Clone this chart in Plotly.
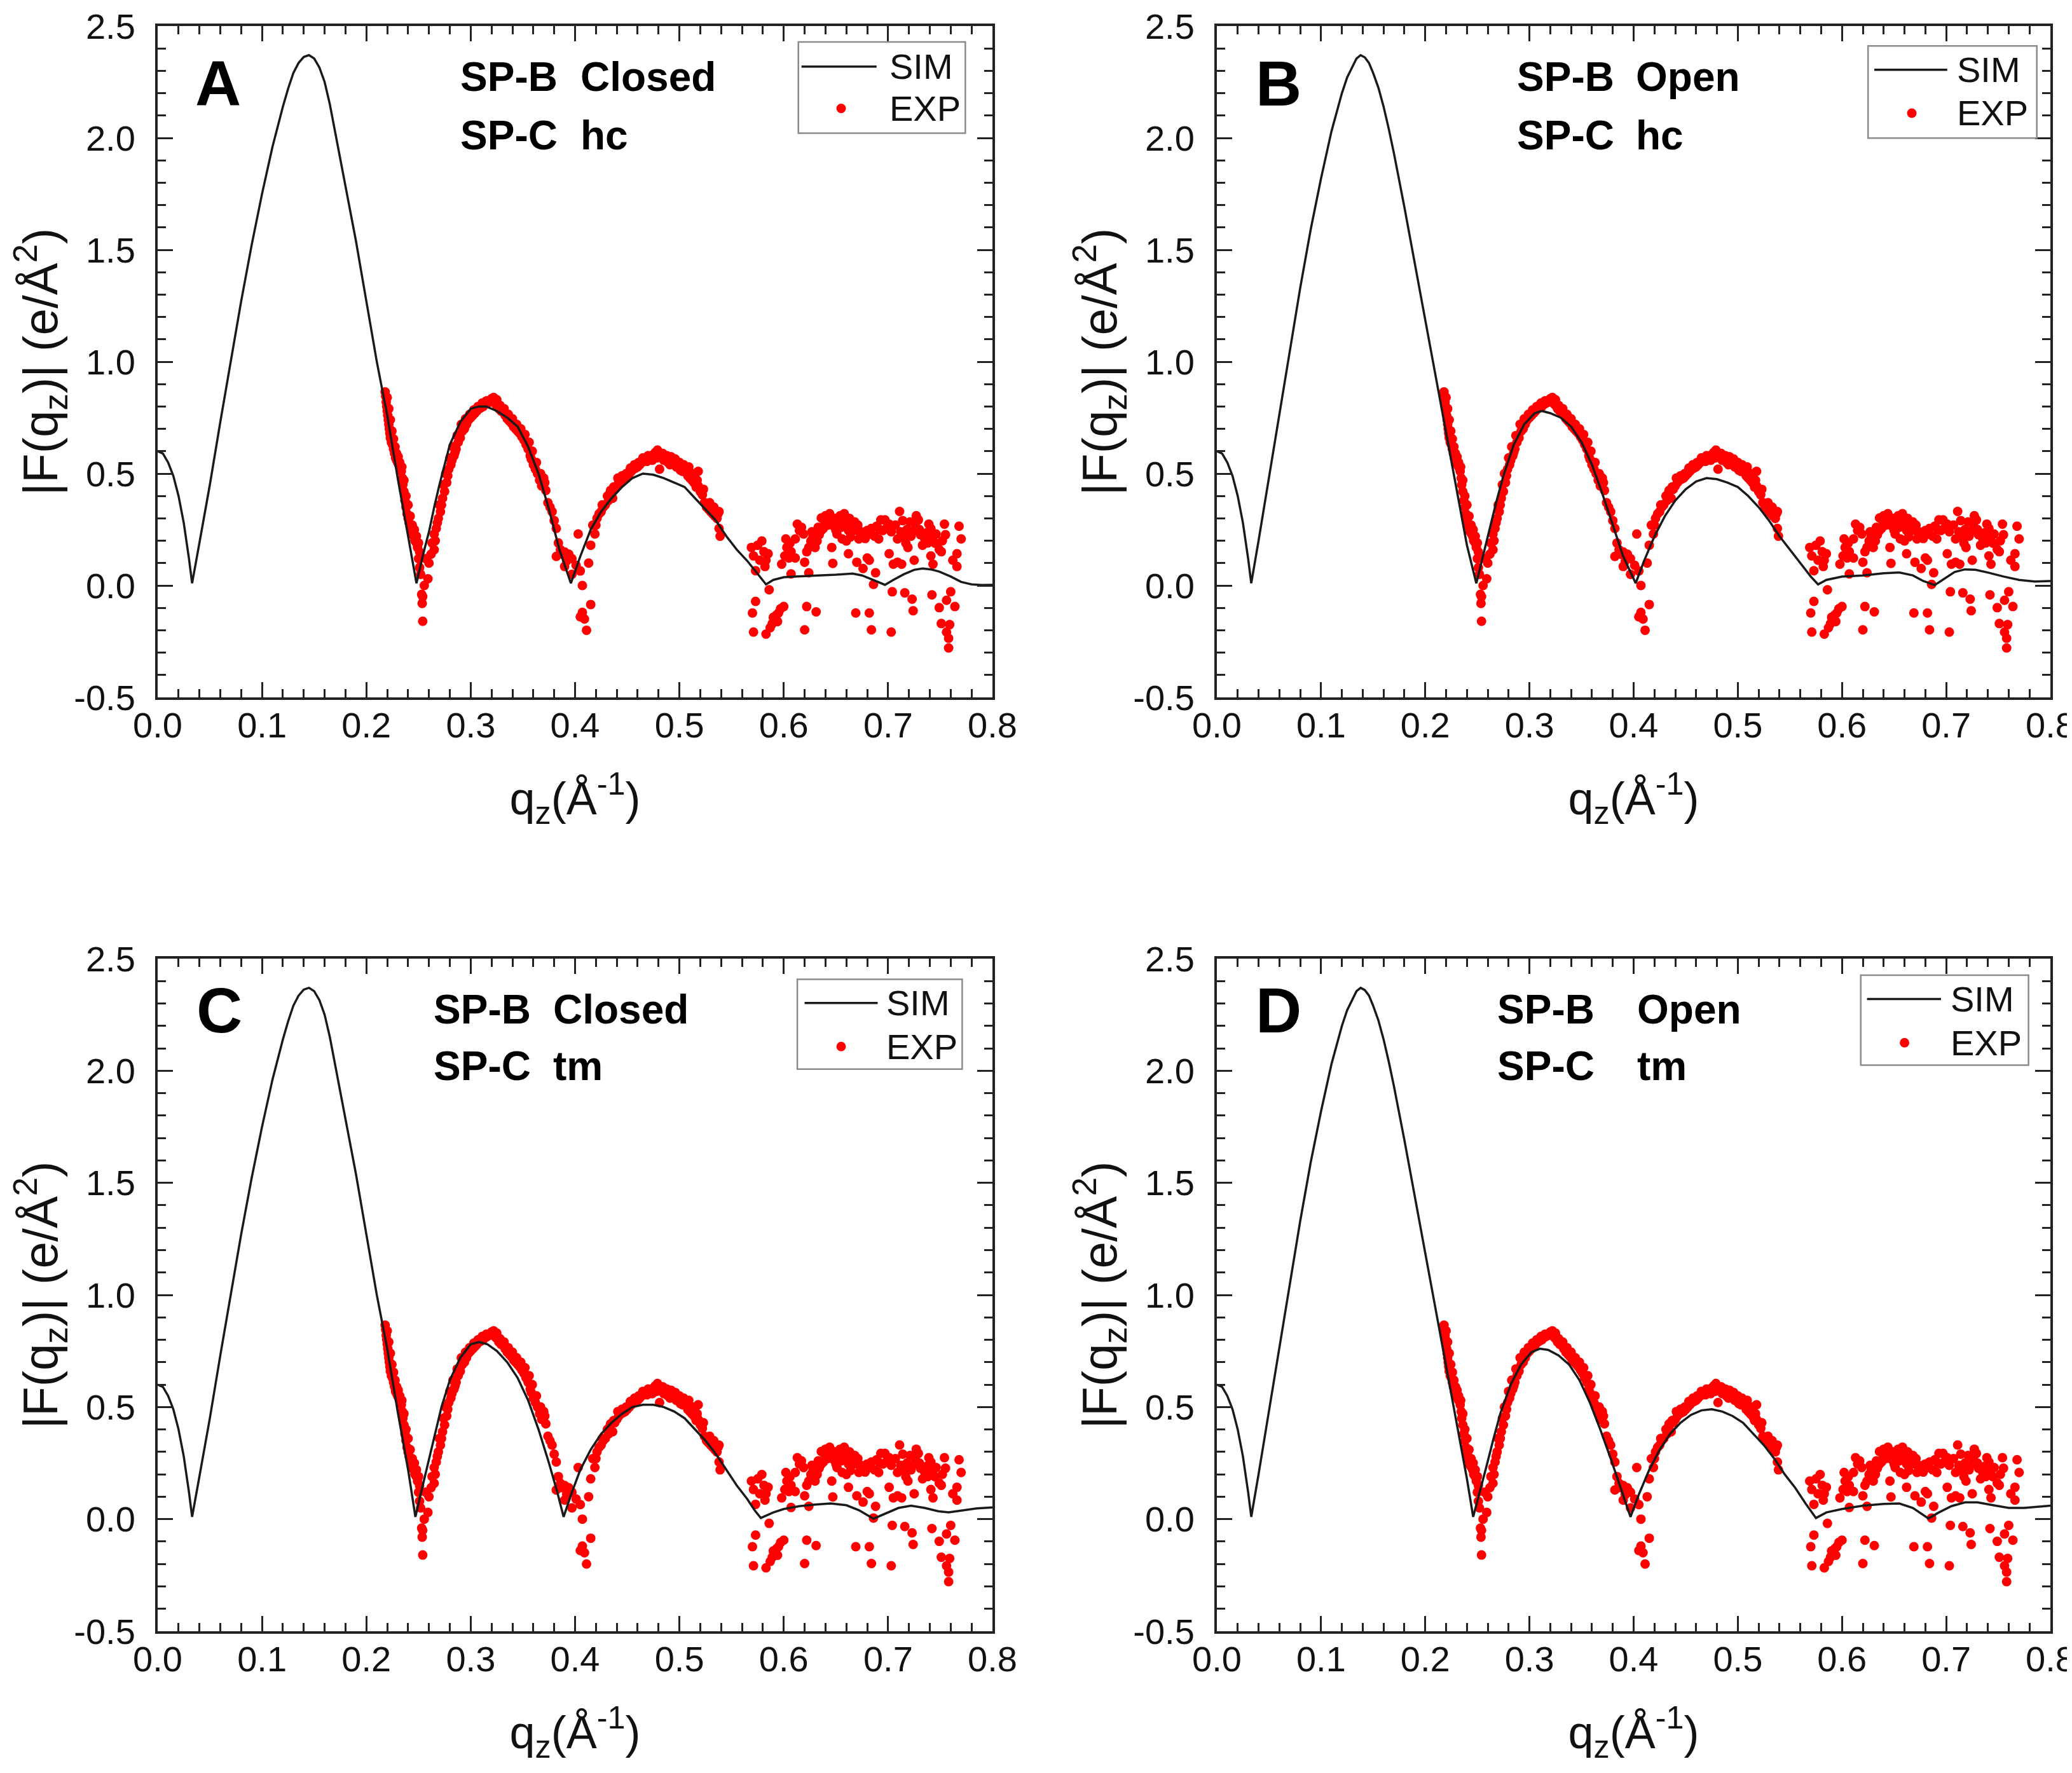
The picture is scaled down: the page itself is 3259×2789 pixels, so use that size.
import plotly.graph_objects as go

# ---------------- data ----------------
PANEL_LETTERS = ["A", "B", "C", "D"]
SPB_STATE = ["Closed", "Open", "Closed", "Open"]
SPC_STATE = ["hc", "hc", "tm", "tm"]

X_TICKS = [0.0, 0.1, 0.2, 0.3, 0.4, 0.5, 0.6, 0.7, 0.8]
Y_TICKS = [-0.5, 0.0, 0.5, 1.0, 1.5, 2.0, 2.5]

# experimental |F(qz)| (q, F)
EXP = [
    (0.2180, 0.865), (0.2185, 0.845), (0.2190, 0.82), (0.2195, 0.80), (0.2200, 0.78), (0.2205, 0.76),
    (0.2210, 0.74), (0.2215, 0.72), (0.2220, 0.70), (0.2225, 0.68), (0.2230, 0.66), (0.2240, 0.64),
    (0.2250, 0.63), (0.2260, 0.61), (0.2270, 0.59), (0.2280, 0.57), (0.2290, 0.56), (0.2300, 0.55),
    (0.2310, 0.54), (0.2320, 0.53), (0.2335, 0.51), (0.2345, 0.48), (0.2350, 0.45), (0.2360, 0.42),
    (0.2370, 0.38), (0.2380, 0.35), (0.2390, 0.32), (0.2400, 0.30), (0.2410, 0.28), (0.2420, 0.26),
    (0.2430, 0.24), (0.2445, 0.23), (0.2455, 0.22), (0.2465, 0.20), (0.2480, 0.19), (0.2490, 0.17),
    (0.2500, 0.12), (0.2510, 0.08), (0.2520, 0.05), (0.2530, -0.04), (0.2540, -0.05), (0.2535, -0.08),
    (0.2540, -0.16), (0.2555, 0.00), (0.2570, 0.12), (0.2590, 0.03), (0.2600, 0.10), (0.2620, 0.14),
    (0.2200, 0.84), (0.2215, 0.79), (0.2230, 0.74), (0.2245, 0.69), (0.2260, 0.655), (0.2275, 0.62),
    (0.2290, 0.59), (0.2305, 0.575), (0.2320, 0.55), (0.2340, 0.53), (0.2360, 0.47), (0.2380, 0.40),
    (0.2400, 0.36), (0.2420, 0.31), (0.2440, 0.27), (0.2460, 0.25), (0.2480, 0.22), (0.2500, 0.19),
    (0.2510, 0.15),
    (0.2650, 0.16), (0.2630, 0.19), (0.2650, 0.23), (0.2670, 0.255), (0.2690, 0.30), (0.2710, 0.33),
    (0.2720, 0.36), (0.2730, 0.39), (0.2750, 0.42), (0.2770, 0.46), (0.2780, 0.49), (0.2790, 0.52),
    (0.2810, 0.54), (0.2820, 0.56), (0.2840, 0.58), (0.2850, 0.595), (0.2860, 0.61), (0.2880, 0.64),
    (0.2900, 0.66), (0.2920, 0.69), (0.2940, 0.70), (0.2960, 0.72), (0.2980, 0.74), (0.3000, 0.75),
    (0.3020, 0.76), (0.3040, 0.77), (0.3060, 0.78), (0.3080, 0.79), (0.3100, 0.795), (0.3120, 0.80),
    (0.3140, 0.81), (0.3160, 0.815), (0.3180, 0.82), (0.3200, 0.835), (0.3210, 0.825), (0.3220, 0.84),
    (0.2660, 0.20), (0.2680, 0.28), (0.2700, 0.36), (0.2740, 0.45), (0.2760, 0.50), (0.2800, 0.57),
    (0.2830, 0.62), (0.2870, 0.67), (0.2910, 0.72), (0.2950, 0.745), (0.2990, 0.765), (0.3030, 0.785),
    (0.3070, 0.80), (0.3110, 0.815), (0.3150, 0.825),
    (0.3230, 0.82), (0.3240, 0.81), (0.3260, 0.80), (0.3270, 0.79), (0.3290, 0.78), (0.3310, 0.775),
    (0.3330, 0.76), (0.3350, 0.745), (0.3370, 0.735), (0.3390, 0.725), (0.3410, 0.71), (0.3430, 0.70),
    (0.3450, 0.69), (0.3470, 0.68), (0.3490, 0.665), (0.3510, 0.65), (0.3530, 0.63), (0.3550, 0.61),
    (0.3570, 0.58), (0.3580, 0.565), (0.3600, 0.54), (0.3620, 0.52), (0.3640, 0.50), (0.3660, 0.47),
    (0.3250, 0.83), (0.3280, 0.805), (0.3320, 0.79), (0.3360, 0.765), (0.3400, 0.745), (0.3440, 0.72),
    (0.3480, 0.70), (0.3520, 0.675), (0.3560, 0.64), (0.3590, 0.60), (0.3630, 0.55), (0.3670, 0.50),
    (0.3680, 0.445), (0.3700, 0.48), (0.3710, 0.46), (0.3720, 0.425), (0.3740, 0.37), (0.3760, 0.35),
    (0.3780, 0.33), (0.3800, 0.29), (0.3820, 0.255), (0.3840, 0.19), (0.3820, 0.13), (0.3860, 0.16),
    (0.3880, 0.14), (0.3900, 0.15), (0.3900, 0.085), (0.3920, 0.11), (0.3940, 0.14), (0.3970, 0.12),
    (0.3970, 0.05), (0.4010, 0.09), (0.4030, 0.23), (0.4050, 0.065), (0.4070, 0.00), (0.4050, -0.14),
    (0.4070, -0.12), (0.4090, -0.15), (0.4110, -0.20), (0.4130, 0.10), (0.4150, 0.18), (0.4150, -0.085),
    (0.4170, 0.27), (0.4190, 0.23), (0.4210, 0.30), (0.4230, 0.32), (0.4250, 0.33), (0.4270, 0.35),
    (0.4290, 0.36), (0.4310, 0.40), (0.4330, 0.41), (0.4340, 0.425), (0.4360, 0.39), (0.4380, 0.43),
    (0.4400, 0.445), (0.4420, 0.46), (0.4440, 0.47), (0.4460, 0.475), (0.4480, 0.48), (0.4500, 0.49),
    (0.4520, 0.50), (0.4540, 0.51), (0.4560, 0.52), (0.4580, 0.525), (0.4600, 0.53), (0.4620, 0.54),
    (0.4640, 0.55), (0.4660, 0.555), (0.4670, 0.56), (0.4690, 0.555), (0.4710, 0.565), (0.4730, 0.575),
    (0.4750, 0.585), (0.4770, 0.595), (0.4790, 0.605), (0.4810, 0.58), (0.4830, 0.575), (0.4810, 0.52),
    (0.4850, 0.56), (0.4870, 0.565), (0.4890, 0.55), (0.4910, 0.54), (0.4930, 0.56), (0.4950, 0.55),
    (0.4970, 0.53), (0.4990, 0.53), (0.5010, 0.515), (0.5030, 0.51), (0.5060, 0.52), (0.5080, 0.49),
    (0.5100, 0.48), (0.5120, 0.47), (0.5140, 0.46), (0.5160, 0.44), (0.5180, 0.51), (0.5180, 0.445),
    (0.5200, 0.42), (0.5220, 0.405), (0.5240, 0.37), (0.5260, 0.35), (0.5280, 0.34), (0.5300, 0.33),
    (0.5320, 0.32), (0.5340, 0.31), (0.5360, 0.30), (0.5380, 0.33), (0.5380, 0.255), (0.5390, 0.22),
    (0.4200, 0.27), (0.4260, 0.36), (0.4320, 0.38), (0.4370, 0.44), (0.4410, 0.48), (0.4450, 0.49),
    (0.4490, 0.50), (0.4530, 0.525), (0.4570, 0.54), (0.4610, 0.55), (0.4650, 0.57), (0.4700, 0.58),
    (0.4740, 0.56), (0.4780, 0.57), (0.4840, 0.59), (0.4880, 0.58), (0.4920, 0.575), (0.4960, 0.565),
    (0.5000, 0.55), (0.5040, 0.54), (0.5090, 0.53), (0.5130, 0.50), (0.5170, 0.47), (0.5230, 0.43),
    (0.5290, 0.37), (0.5330, 0.35), (0.5370, 0.32),
    (0.569, 0.170), (0.570, -0.123), (0.571, 0.132), (0.571, -0.208), (0.573, 0.066), (0.573, -0.071),
    (0.575, 0.18), (0.577, 0.113), (0.579, 0.199), (0.581, 0.151), (0.582, 0.085), (0.583, 0.113),
    (0.583, -0.217), (0.585, 0.142), (0.586, -0.019), (0.587, -0.189), (0.589, -0.170), (0.590, -0.142),
    (0.591, -0.151), (0.593, -0.132), (0.594, -0.161), (0.595, -0.123), (0.597, -0.104), (0.598, 0.095),
    (0.600, -0.094), (0.601, 0.132), (0.602, 0.208), (0.603, 0.170), (0.605, 0.123), (0.606, 0.189),
    (0.607, 0.151), (0.607, 0.052), (0.611, 0.208), (0.611, 0.123), (0.613, 0.274), (0.615, 0.246),
    (0.617, 0.26), (0.619, 0.23), (0.620, 0.104), (0.620, -0.198), (0.622, 0.151), (0.622, -0.094),
    (0.624, 0.057), (0.624, 0.170), (0.626, 0.199), (0.627, 0.24), (0.628, 0.217), (0.630, 0.170),
    (0.631, -0.118), (0.632, 0.199), (0.633, 0.26), (0.634, 0.227), (0.636, 0.246), (0.636, 0.302),
    (0.638, 0.255), (0.639, 0.29), (0.640, 0.312), (0.642, 0.27), (0.644, 0.321), (0.646, 0.293),
    (0.646, 0.170), (0.647, 0.099), (0.648, 0.265), (0.649, 0.30), (0.650, 0.246), (0.651, 0.23),
    (0.652, 0.274), (0.654, 0.312), (0.655, 0.26), (0.656, 0.208), (0.657, 0.28), (0.658, 0.321),
    (0.660, 0.284), (0.660, 0.199), (0.662, 0.246), (0.662, 0.142), (0.663, 0.30), (0.664, 0.217),
    (0.666, 0.26), (0.668, 0.284), (0.669, -0.123), (0.670, 0.246), (0.670, 0.104), (0.671, 0.27),
    (0.672, 0.208), (0.674, 0.24), (0.676, 0.227), (0.676, 0.076), (0.678, 0.21), (0.680, 0.246),
    (0.680, 0.123), (0.682, 0.113), (0.682, -0.123), (0.683, 0.23), (0.684, 0.255), (0.684, -0.198),
    (0.686, 0.005), (0.687, 0.22), (0.688, 0.057), (0.689, 0.265), (0.691, 0.208), (0.692, 0.25),
    (0.693, 0.293), (0.695, 0.246), (0.697, 0.293), (0.699, 0.26), (0.701, 0.274), (0.701, 0.142),
    (0.703, -0.208), (0.703, 0.24), (0.704, -0.028), (0.705, 0.095), (0.707, 0.27), (0.709, 0.104),
    (0.709, 0.208), (0.711, 0.331), (0.712, 0.24), (0.713, 0.095), (0.714, 0.29), (0.715, 0.217),
    (0.716, -0.033), (0.717, 0.189), (0.718, 0.25), (0.719, 0.170), (0.721, 0.284), (0.722, 0.22),
    (0.723, -0.061), (0.724, -0.113), (0.725, 0.246), (0.725, 0.113), (0.726, 0.27), (0.727, 0.312),
    (0.729, 0.293), (0.730, 0.25), (0.731, 0.227), (0.733, 0.180), (0.735, 0.21), (0.737, 0.236),
    (0.738, 0.19), (0.739, 0.274), (0.741, 0.255), (0.741, 0.132), (0.742, -0.042), (0.743, 0.217),
    (0.743, 0.095), (0.745, 0.189), (0.746, 0.23), (0.749, 0.161), (0.749, -0.099), (0.751, 0.151),
    (0.751, -0.170), (0.752, 0.20), (0.754, 0.274), (0.755, 0.227), (0.756, -0.066), (0.756, -0.208),
    (0.758, -0.236), (0.758, -0.279), (0.759, -0.175), (0.760, -0.028), (0.762, 0.113), (0.764, -0.094),
    (0.766, 0.142), (0.766, 0.085), (0.768, 0.265), (0.770, 0.208),
]

# simulated |F(qz)| for each panel (q, F)
SIM_A = [
    (0.000, 0.60), (0.005, 0.59), (0.010, 0.55), (0.015, 0.49), (0.020, 0.40), (0.025, 0.28),
    (0.030, 0.12), (0.033, 0.01), (0.040, 0.19), (0.050, 0.45), (0.060, 0.73), (0.070, 1.00),
    (0.080, 1.27), (0.090, 1.52), (0.100, 1.75), (0.110, 1.96), (0.120, 2.14), (0.125, 2.22),
    (0.130, 2.29), (0.135, 2.335), (0.140, 2.362), (0.145, 2.37), (0.150, 2.355), (0.155, 2.315),
    (0.160, 2.25), (0.165, 2.15), (0.170, 2.03), (0.180, 1.78),
    (0.190, 1.54), (0.200, 1.27), (0.210, 1.00), (0.220, 0.76), (0.230, 0.48), (0.240, 0.22),
    (0.248, 0.01), (0.255, 0.15), (0.260, 0.24), (0.265, 0.35), (0.270, 0.45), (0.280, 0.63),
    (0.290, 0.73), (0.300, 0.79), (0.308, 0.80), (0.315, 0.80), (0.325, 0.78), (0.335, 0.75),
    (0.345, 0.71), (0.355, 0.62), (0.365, 0.50), (0.375, 0.34), (0.385, 0.16), (0.396, 0.01),
    (0.405, 0.13), (0.415, 0.25), (0.425, 0.33), (0.435, 0.39), (0.445, 0.44), (0.455, 0.48),
    (0.465, 0.50), (0.475, 0.495), (0.485, 0.48), (0.495, 0.46), (0.505, 0.44), (0.515, 0.39),
    (0.525, 0.34), (0.535, 0.29), (0.545, 0.22), (0.555, 0.16), (0.565, 0.11), (0.575, 0.05),
    (0.583, 0.005), (0.590, 0.025), (0.600, 0.037), (0.610, 0.040), (0.630, 0.043), (0.650, 0.048),
    (0.666, 0.053), (0.675, 0.045), (0.684, 0.028), (0.697, 0.003), (0.705, 0.025), (0.715, 0.05),
    (0.725, 0.07), (0.733, 0.076), (0.741, 0.072), (0.749, 0.062), (0.760, 0.04), (0.770, 0.016),
    (0.780, 0.005), (0.790, 0.002), (0.800, 0.003),
]
SIM_B = [
    (0.000, 0.60), (0.005, 0.59), (0.010, 0.55), (0.015, 0.49), (0.020, 0.40), (0.025, 0.28),
    (0.030, 0.12), (0.033, 0.01), (0.040, 0.20), (0.050, 0.48), (0.060, 0.77), (0.070, 1.05),
    (0.080, 1.33), (0.090, 1.59), (0.100, 1.82), (0.110, 2.03), (0.120, 2.20), (0.125, 2.27),
    (0.130, 2.32), (0.134, 2.355), (0.138, 2.37), (0.142, 2.36), (0.146, 2.335), (0.150, 2.29),
    (0.155, 2.225), (0.160, 2.14), (0.165, 2.04), (0.170, 1.93), (0.180, 1.69),
    (0.190, 1.44), (0.200, 1.18), (0.210, 0.93), (0.220, 0.68), (0.230, 0.43), (0.240, 0.18),
    (0.249, 0.01), (0.256, 0.14), (0.262, 0.26), (0.268, 0.37), (0.275, 0.49), (0.285, 0.63),
    (0.295, 0.72), (0.305, 0.77), (0.312, 0.78), (0.320, 0.77), (0.330, 0.75), (0.340, 0.71),
    (0.350, 0.64), (0.360, 0.54), (0.370, 0.41), (0.380, 0.27), (0.390, 0.13), (0.402, 0.01),
    (0.410, 0.11), (0.420, 0.22), (0.430, 0.31), (0.440, 0.38), (0.450, 0.43), (0.460, 0.465),
    (0.470, 0.48), (0.480, 0.475), (0.490, 0.46), (0.500, 0.44), (0.510, 0.40), (0.520, 0.35),
    (0.530, 0.29), (0.540, 0.22), (0.550, 0.16), (0.560, 0.10), (0.570, 0.04), (0.577, 0.005),
    (0.585, 0.025), (0.600, 0.040), (0.620, 0.045), (0.640, 0.055), (0.655, 0.058), (0.668, 0.045),
    (0.678, 0.02), (0.689, 0.002), (0.698, 0.03), (0.708, 0.06), (0.718, 0.072), (0.728, 0.07),
    (0.740, 0.058), (0.755, 0.04), (0.770, 0.025), (0.785, 0.018), (0.800, 0.02),
]
SIM_C = [
    (0.000, 0.60), (0.005, 0.59), (0.010, 0.55), (0.015, 0.49), (0.020, 0.40), (0.025, 0.28),
    (0.030, 0.12), (0.033, 0.01), (0.040, 0.19), (0.050, 0.45), (0.060, 0.73), (0.070, 1.00),
    (0.080, 1.27), (0.090, 1.52), (0.100, 1.75), (0.110, 1.96), (0.120, 2.14), (0.125, 2.22),
    (0.130, 2.29), (0.135, 2.335), (0.140, 2.362), (0.145, 2.37), (0.150, 2.355), (0.155, 2.315),
    (0.160, 2.25), (0.165, 2.15), (0.170, 2.03), (0.180, 1.78),
    (0.190, 1.54), (0.200, 1.27), (0.210, 1.00), (0.220, 0.76), (0.230, 0.48), (0.240, 0.22),
    (0.247, 0.01), (0.254, 0.15), (0.260, 0.27), (0.266, 0.39), (0.272, 0.50), (0.280, 0.62),
    (0.290, 0.72), (0.300, 0.78), (0.308, 0.79), (0.316, 0.78), (0.325, 0.75), (0.335, 0.70),
    (0.345, 0.63), (0.355, 0.53), (0.365, 0.40), (0.375, 0.25), (0.383, 0.12), (0.389, 0.01),
    (0.397, 0.12), (0.405, 0.22), (0.415, 0.31), (0.425, 0.38), (0.435, 0.43), (0.445, 0.47),
    (0.455, 0.50), (0.465, 0.51), (0.475, 0.51), (0.485, 0.50), (0.495, 0.48), (0.505, 0.45),
    (0.515, 0.40), (0.525, 0.35), (0.535, 0.29), (0.545, 0.22), (0.555, 0.15), (0.565, 0.09),
    (0.572, 0.04), (0.578, 0.005), (0.590, 0.03), (0.600, 0.045), (0.615, 0.058), (0.630, 0.065),
    (0.645, 0.07), (0.660, 0.062), (0.672, 0.04), (0.686, 0.002), (0.697, 0.025), (0.710, 0.05),
    (0.722, 0.06), (0.735, 0.05), (0.748, 0.035), (0.758, 0.03), (0.770, 0.038), (0.785, 0.048),
    (0.800, 0.052),
]
SIM_D = [
    (0.000, 0.60), (0.005, 0.59), (0.010, 0.55), (0.015, 0.49), (0.020, 0.40), (0.025, 0.28),
    (0.030, 0.12), (0.033, 0.01), (0.040, 0.20), (0.050, 0.48), (0.060, 0.77), (0.070, 1.05),
    (0.080, 1.33), (0.090, 1.59), (0.100, 1.82), (0.110, 2.03), (0.120, 2.20), (0.125, 2.27),
    (0.130, 2.32), (0.134, 2.355), (0.138, 2.37), (0.142, 2.36), (0.146, 2.335), (0.150, 2.29),
    (0.155, 2.225), (0.160, 2.14), (0.165, 2.04), (0.170, 1.93), (0.180, 1.69),
    (0.190, 1.44), (0.200, 1.18), (0.210, 0.93), (0.220, 0.68), (0.230, 0.43), (0.240, 0.18),
    (0.246, 0.01), (0.253, 0.13), (0.259, 0.24), (0.265, 0.35), (0.272, 0.47), (0.282, 0.60),
    (0.292, 0.69), (0.302, 0.745), (0.310, 0.76), (0.318, 0.755), (0.328, 0.73), (0.338, 0.69),
    (0.348, 0.62), (0.358, 0.52), (0.368, 0.40), (0.378, 0.27), (0.388, 0.13), (0.397, 0.01),
    (0.405, 0.11), (0.415, 0.22), (0.425, 0.31), (0.435, 0.38), (0.445, 0.43), (0.455, 0.465),
    (0.465, 0.485), (0.475, 0.49), (0.485, 0.48), (0.495, 0.46), (0.505, 0.43), (0.515, 0.38),
    (0.525, 0.33), (0.535, 0.27), (0.545, 0.20), (0.555, 0.14), (0.565, 0.07), (0.575, 0.005),
    (0.585, 0.03), (0.600, 0.045), (0.620, 0.06), (0.640, 0.068), (0.655, 0.07), (0.668, 0.05),
    (0.676, 0.025), (0.683, 0.003), (0.693, 0.03), (0.705, 0.058), (0.718, 0.075), (0.730, 0.075),
    (0.745, 0.062), (0.760, 0.05), (0.775, 0.05), (0.790, 0.057), (0.800, 0.06),
]
SIMS = [SIM_A, SIM_B, SIM_C, SIM_D]

# ---------------- layout constants ----------------
W, H = 3259, 2789
X_DOMAINS = [[240 / W, 1553 / W], [1906 / W, 3217 / W]]
Y_DOMAINS = [[1 - 1089 / H, 1 - 33 / H], [1 - 2558 / H, 1 - 1500 / H]]
FONT = "Liberation Sans, Arial, sans-serif"
AX_COLOR = "#222222"

# per-panel placement of label text and legend (data units)
LABEL_X = [(0.289, 0.404), (0.287, 0.401), (0.263, 0.378), (0.268, 0.402)]
LABEL_Y = [(2.273, 2.010), (2.273, 2.010), (2.273, 2.02), (2.273, 2.02)]
LETTER_POS = [(0.058, 2.245), (0.059, 2.245), (0.059, 2.270), (0.059, 2.270)]
LEG_BOX = [(0.614, 0.774, 2.021, 2.429), (0.625, 0.787, 1.999, 2.411),
           (0.613, 0.771, 2.007, 2.408), (0.618, 0.779, 2.025, 2.426)]
LEG_LINE = [(0.617, 0.689, 2.319), (0.631, 0.701, 2.305),
            (0.620, 0.690, 2.302), (0.624, 0.695, 2.320)]
LEG_TEXT_X = [0.700, 0.709, 0.697, 0.703]
LEG_DOT = [(0.655, 2.132), (0.667, 2.111), (0.655, 2.108), (0.660, 2.125)]

fig = go.Figure()
annotations = []
shapes = []

exp_q = [p[0] for p in EXP]
exp_f = [p[1] for p in EXP]

for i in range(4):
    row, col = divmod(i, 2)
    sfx = "" if i == 0 else str(i + 1)
    xr, yr = "x" + sfx, "y" + sfx
    sim = SIMS[i]
    fig.add_trace(go.Scatter(
        x=exp_q, y=exp_f, mode="markers", name="EXP",
        marker=dict(color="#ff0000", size=15, line=dict(width=0)),
        xaxis=xr, yaxis=yr, showlegend=False))
    fig.add_trace(go.Scatter(
        x=[p[0] for p in sim], y=[p[1] for p in sim], mode="lines", name="SIM",
        line=dict(color="#1a1a1a", width=3.5),
        xaxis=xr, yaxis=yr, showlegend=False))

    common = dict(
        showline=True, linecolor=AX_COLOR, linewidth=4, mirror="allticks",
        ticks="inside", ticklen=24, tickwidth=3, tickcolor=AX_COLOR,
        showgrid=False, zeroline=False, automargin=False, ticklabeloverflow="allow",
        tickfont=dict(family=FONT, size=56, color="#111111"),
    )
    fig.layout["xaxis" + sfx] = dict(
        common, domain=X_DOMAINS[col], anchor=yr, range=[0, 0.8],
        tickvals=X_TICKS, ticktext=[f"{v:.1f}" for v in X_TICKS], ticklabelstandoff=-8,
        minor=dict(dtick=0.02, tick0=0, ticks="inside", ticklen=13, tickwidth=3,
                   tickcolor=AX_COLOR, showgrid=False),
        title=dict(text="q<sub>z</sub>(Å<sup>-1</sup>)", standoff=60,
                   font=dict(family=FONT, size=72, color="#111111")),
    )
    fig.layout["yaxis" + sfx] = dict(
        common, domain=Y_DOMAINS[row], anchor=xr, range=[-0.5, 2.5],
        tickvals=Y_TICKS, ticktext=[f"{v:.1f}" for v in Y_TICKS], ticklabelstandoff=20,
        minor=dict(dtick=0.1, tick0=0, ticks="inside", ticklen=13, tickwidth=3,
                   tickcolor=AX_COLOR, showgrid=False),
        title=dict(text="|F(q<sub>z</sub>)| (e/Å<sup>2</sup>)", standoff=2,
                   font=dict(family=FONT, size=76, color="#111111")),
    )

    # panel letter
    lx, ly = LETTER_POS[i]
    annotations.append(dict(x=lx, y=ly, xref=xr, yref=yr, text=PANEL_LETTERS[i],
                            showarrow=False, xanchor="center", yanchor="middle",
                            font=dict(family=FONT, size=100, color="#000000", weight="bold")))
    # SP-B / SP-C labels
    (x1, x2), (y1, y2) = LABEL_X[i], LABEL_Y[i]
    for tx, ty, txt in [(x1, y1, "SP-B"), (x2, y1, SPB_STATE[i]),
                        (x1, y2, "SP-C"), (x2, y2, SPC_STATE[i])]:
        annotations.append(dict(x=tx, y=ty, xref=xr, yref=yr, text=txt,
                                showarrow=False, xanchor="left", yanchor="middle",
                                font=dict(family=FONT, size=64, color="#000000", weight="bold")))
    # legend box
    bx0, bx1, by0, by1 = LEG_BOX[i]
    shapes.append(dict(type="rect", xref=xr, yref=yr, x0=bx0, x1=bx1, y0=by0, y1=by1,
                       line=dict(color="#8a8a8a", width=2.5), fillcolor="rgba(255,255,255,0)"))
    lx0, lx1, lly = LEG_LINE[i]
    shapes.append(dict(type="line", xref=xr, yref=yr, x0=lx0, x1=lx1, y0=lly, y1=lly,
                       line=dict(color="#1a1a1a", width=3.5)))
    dx, dy = LEG_DOT[i]
    shapes.append(dict(type="circle", xref=xr, yref=yr, xsizemode="pixel", ysizemode="pixel",
                       xanchor=dx, yanchor=dy, x0=-7.5, x1=7.5, y0=-7.5, y1=7.5,
                       fillcolor="#ff0000", line=dict(width=0)))
    for ty, txt in [(lly, "SIM"), (dy, "EXP")]:
        annotations.append(dict(x=LEG_TEXT_X[i], y=ty, xref=xr, yref=yr, text=txt,
                                showarrow=False, xanchor="left", yanchor="middle",
                                font=dict(family=FONT, size=56, color="#111111")))

fig.update_layout(
    width=W, height=H, margin=dict(l=0, r=0, t=0, b=0, autoexpand=False),
    paper_bgcolor="white", plot_bgcolor="white",
    annotations=annotations, shapes=shapes, showlegend=False,
)

fig.write_html("out.html")
